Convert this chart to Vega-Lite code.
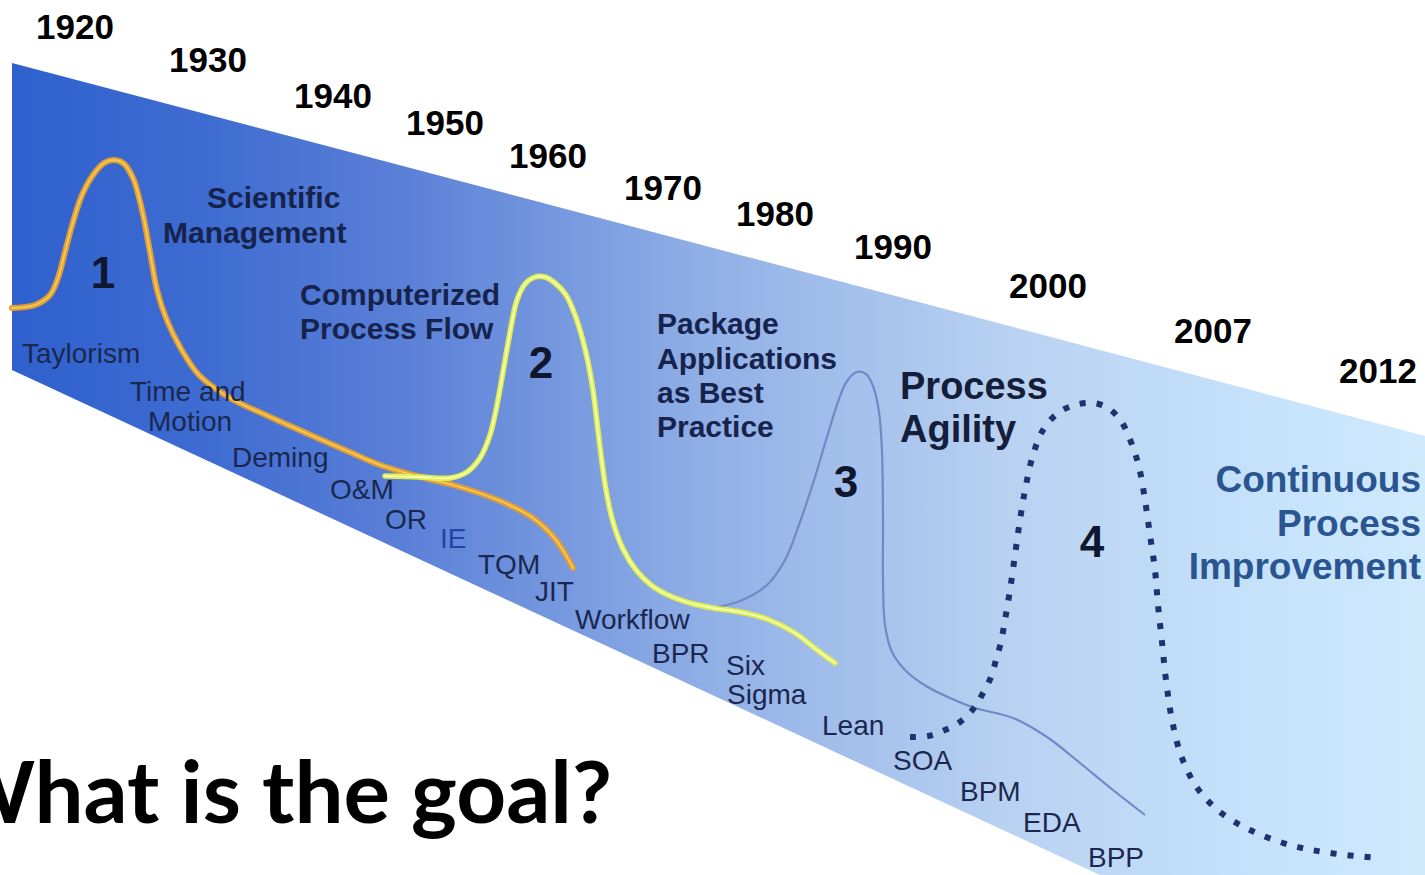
{
  "$schema": "https://vega.github.io/schema/vega-lite/v6.json",
  "width": 1425,
  "height": 875,
  "autosize": {"type": "none"},
  "padding": 0,
  "background": "#ffffff",
  "config": {"view": {"stroke": null}},
  "datasets": {
    "band": [
      {"x": 12, "top": 63, "bottom": 370},
      {"x": 1100, "top": 350, "bottom": 875},
      {"x": 1425, "top": 436, "bottom": 875}
    ],
    "wave1": [
      {"i": 1, "x": 12, "y": 308}, {"i": 2, "x": 35, "y": 305}, {"i": 3, "x": 50, "y": 295},
      {"i": 4, "x": 58, "y": 278}, {"i": 5, "x": 65, "y": 252}, {"i": 6, "x": 73, "y": 222},
      {"i": 7, "x": 82, "y": 195}, {"i": 8, "x": 93, "y": 175}, {"i": 9, "x": 104, "y": 163},
      {"i": 10, "x": 113, "y": 160}, {"i": 11, "x": 123, "y": 163}, {"i": 12, "x": 133, "y": 178},
      {"i": 13, "x": 142, "y": 210}, {"i": 14, "x": 150, "y": 252}, {"i": 15, "x": 157, "y": 290},
      {"i": 16, "x": 166, "y": 318}, {"i": 17, "x": 180, "y": 347}, {"i": 18, "x": 199, "y": 375},
      {"i": 19, "x": 230, "y": 398}, {"i": 20, "x": 268, "y": 416}, {"i": 21, "x": 306, "y": 433},
      {"i": 22, "x": 345, "y": 450}, {"i": 23, "x": 383, "y": 466}, {"i": 24, "x": 421, "y": 477},
      {"i": 25, "x": 460, "y": 487}, {"i": 26, "x": 498, "y": 500}, {"i": 27, "x": 533, "y": 518},
      {"i": 28, "x": 556, "y": 540}, {"i": 29, "x": 573, "y": 568}
    ],
    "wave2": [
      {"i": 1, "x": 385, "y": 476}, {"i": 2, "x": 420, "y": 477}, {"i": 3, "x": 450, "y": 478},
      {"i": 4, "x": 467, "y": 472}, {"i": 5, "x": 480, "y": 458}, {"i": 6, "x": 490, "y": 435},
      {"i": 7, "x": 497, "y": 405}, {"i": 8, "x": 503, "y": 372}, {"i": 9, "x": 509, "y": 338},
      {"i": 10, "x": 517, "y": 300}, {"i": 11, "x": 525, "y": 284}, {"i": 12, "x": 535, "y": 277},
      {"i": 13, "x": 545, "y": 277}, {"i": 14, "x": 555, "y": 283}, {"i": 15, "x": 566, "y": 295},
      {"i": 16, "x": 575, "y": 315}, {"i": 17, "x": 582, "y": 337}, {"i": 18, "x": 588, "y": 362},
      {"i": 19, "x": 593, "y": 390}, {"i": 20, "x": 597, "y": 422}, {"i": 21, "x": 601, "y": 455},
      {"i": 22, "x": 606, "y": 490}, {"i": 23, "x": 613, "y": 522}, {"i": 24, "x": 623, "y": 549},
      {"i": 25, "x": 636, "y": 570}, {"i": 26, "x": 651, "y": 585}, {"i": 27, "x": 668, "y": 595},
      {"i": 28, "x": 690, "y": 603}, {"i": 29, "x": 713, "y": 608}, {"i": 30, "x": 740, "y": 612},
      {"i": 31, "x": 767, "y": 619}, {"i": 32, "x": 795, "y": 633}, {"i": 33, "x": 817, "y": 650},
      {"i": 34, "x": 835, "y": 663}
    ],
    "wave3": [
      {"i": 1, "x": 713, "y": 608}, {"i": 2, "x": 740, "y": 601}, {"i": 3, "x": 767, "y": 585},
      {"i": 4, "x": 785, "y": 560}, {"i": 5, "x": 800, "y": 522}, {"i": 6, "x": 815, "y": 477},
      {"i": 7, "x": 827, "y": 437}, {"i": 8, "x": 838, "y": 402}, {"i": 9, "x": 847, "y": 381},
      {"i": 10, "x": 857, "y": 372}, {"i": 11, "x": 866, "y": 374}, {"i": 12, "x": 873, "y": 386},
      {"i": 13, "x": 879, "y": 412}, {"i": 14, "x": 882, "y": 452}, {"i": 15, "x": 883, "y": 520},
      {"i": 16, "x": 883, "y": 580}, {"i": 17, "x": 885, "y": 625}, {"i": 18, "x": 892, "y": 652},
      {"i": 19, "x": 906, "y": 671}, {"i": 20, "x": 926, "y": 686}, {"i": 21, "x": 950, "y": 698},
      {"i": 22, "x": 975, "y": 708}, {"i": 23, "x": 1013, "y": 718}, {"i": 24, "x": 1047, "y": 737},
      {"i": 25, "x": 1080, "y": 763}, {"i": 26, "x": 1113, "y": 790}, {"i": 27, "x": 1145, "y": 815}
    ],
    "wave4": [
      {"i": 1, "x": 910, "y": 737}, {"i": 2, "x": 928, "y": 736}, {"i": 3, "x": 945, "y": 730},
      {"i": 4, "x": 960, "y": 722}, {"i": 5, "x": 974, "y": 708}, {"i": 6, "x": 983, "y": 693},
      {"i": 7, "x": 991, "y": 677}, {"i": 8, "x": 996, "y": 660}, {"i": 9, "x": 1001, "y": 642},
      {"i": 10, "x": 1005, "y": 620}, {"i": 11, "x": 1010, "y": 590}, {"i": 12, "x": 1015, "y": 555},
      {"i": 13, "x": 1020, "y": 520}, {"i": 14, "x": 1026, "y": 485}, {"i": 15, "x": 1033, "y": 455},
      {"i": 16, "x": 1043, "y": 430}, {"i": 17, "x": 1058, "y": 413}, {"i": 18, "x": 1075, "y": 405},
      {"i": 19, "x": 1093, "y": 403}, {"i": 20, "x": 1108, "y": 408}, {"i": 21, "x": 1121, "y": 421},
      {"i": 22, "x": 1131, "y": 442}, {"i": 23, "x": 1139, "y": 467}, {"i": 24, "x": 1145, "y": 500},
      {"i": 25, "x": 1150, "y": 535}, {"i": 26, "x": 1155, "y": 570}, {"i": 27, "x": 1158, "y": 605},
      {"i": 28, "x": 1162, "y": 642}, {"i": 29, "x": 1166, "y": 680}, {"i": 30, "x": 1172, "y": 720},
      {"i": 31, "x": 1182, "y": 758}, {"i": 32, "x": 1198, "y": 789}, {"i": 33, "x": 1220, "y": 812},
      {"i": 34, "x": 1250, "y": 830}, {"i": 35, "x": 1290, "y": 845}, {"i": 36, "x": 1330, "y": 853},
      {"i": 37, "x": 1378, "y": 858}
    ],
    "years": [
      {"t": "1920", "x": 75, "y": 39}, {"t": "1930", "x": 208, "y": 72},
      {"t": "1940", "x": 333, "y": 108}, {"t": "1950", "x": 445, "y": 135},
      {"t": "1960", "x": 548, "y": 168}, {"t": "1970", "x": 663, "y": 200},
      {"t": "1980", "x": 775, "y": 226}, {"t": "1990", "x": 893, "y": 259},
      {"t": "2000", "x": 1048, "y": 298}, {"t": "2007", "x": 1213, "y": 343},
      {"t": "2012", "x": 1378, "y": 383}
    ],
    "eras": [
      {"t": "Scientific", "x": 207, "y": 208}, {"t": "Management", "x": 163, "y": 243},
      {"t": "Computerized", "x": 300, "y": 305}, {"t": "Process Flow", "x": 300, "y": 339},
      {"t": "Package", "x": 657, "y": 334}, {"t": "Applications", "x": 657, "y": 369},
      {"t": "as Best", "x": 657, "y": 403}, {"t": "Practice", "x": 657, "y": 437}
    ],
    "agility": [
      {"t": "Process", "x": 900, "y": 399}, {"t": "Agility", "x": 900, "y": 442}
    ],
    "continuous": [
      {"t": "Continuous", "x": 1421, "y": 492}, {"t": "Process", "x": 1421, "y": 536},
      {"t": "Improvement", "x": 1421, "y": 579}
    ],
    "numbers": [
      {"t": "1", "x": 103, "y": 288}, {"t": "2", "x": 541, "y": 378},
      {"t": "3", "x": 846, "y": 497}, {"t": "4", "x": 1092, "y": 557}
    ],
    "methods": [
      {"t": "Taylorism", "x": 22, "y": 363, "c": "n"}, {"t": "Time and", "x": 130, "y": 401, "c": "n"},
      {"t": "Motion", "x": 148, "y": 431, "c": "n"}, {"t": "Deming", "x": 232, "y": 467, "c": "n"},
      {"t": "O&M", "x": 330, "y": 499, "c": "n"}, {"t": "OR", "x": 385, "y": 529, "c": "n"},
      {"t": "IE", "x": 440, "y": 548, "c": "b"}, {"t": "TQM", "x": 478, "y": 574, "c": "n"},
      {"t": "JIT", "x": 535, "y": 601, "c": "n"}, {"t": "Workflow", "x": 575, "y": 629, "c": "n"},
      {"t": "BPR", "x": 652, "y": 663, "c": "n"}, {"t": "Six", "x": 726, "y": 675, "c": "n"},
      {"t": "Sigma", "x": 727, "y": 704, "c": "n"}, {"t": "Lean", "x": 822, "y": 735, "c": "n"},
      {"t": "SOA", "x": 893, "y": 770, "c": "n"}, {"t": "BPM", "x": 960, "y": 801, "c": "n"},
      {"t": "EDA", "x": 1023, "y": 832, "c": "n"}, {"t": "BPP", "x": 1088, "y": 867, "c": "n"}
    ],
    "title": [
      {"t": "What is the goal?", "x": 612, "y": 823}
    ]
  },
  "layer": [
    {
      "data": {"name": "band"},
      "mark": {
        "type": "area",
        "fill": {
          "gradient": "linear", "x1": 0, "y1": 0, "x2": 1, "y2": 0,
          "stops": [
            {"offset": 0, "color": "#2f60cd"},
            {"offset": 0.13, "color": "#3d6bd1"},
            {"offset": 0.275, "color": "#5a7fd7"},
            {"offset": 0.49, "color": "#90afe6"},
            {"offset": 0.7, "color": "#b8d1f1"},
            {"offset": 0.91, "color": "#c8e4fc"},
            {"offset": 1, "color": "#cfe9fd"}
          ]
        }
      },
      "encoding": {
        "x": {"field": "x", "type": "quantitative", "scale": {"domain": [0, 1425], "nice": false, "zero": false}, "axis": null},
        "y": {"field": "top", "type": "quantitative", "scale": {"domain": [0, 875], "nice": false, "reverse": true}, "axis": null},
        "y2": {"field": "bottom"}
      }
    },
    {
      "data": {"name": "wave1"},
      "mark": {"type": "line", "interpolate": "catmull-rom", "color": "#e39c38", "strokeWidth": 6, "strokeCap": "round"},
      "encoding": {
        "x": {"field": "x", "type": "quantitative", "scale": {"domain": [0, 1425], "nice": false, "zero": false}, "axis": null},
        "y": {"field": "y", "type": "quantitative", "scale": {"domain": [0, 875], "nice": false, "reverse": true}, "axis": null},
        "order": {"field": "i", "type": "quantitative"}
      }
    },
    {
      "data": {"name": "wave1"},
      "mark": {"type": "line", "interpolate": "catmull-rom", "color": "#f2cf52", "strokeWidth": 1.8, "strokeCap": "round"},
      "encoding": {
        "x": {"field": "x", "type": "quantitative", "scale": {"domain": [0, 1425], "nice": false, "zero": false}, "axis": null},
        "y": {"field": "y", "type": "quantitative", "scale": {"domain": [0, 875], "nice": false, "reverse": true}, "axis": null},
        "order": {"field": "i", "type": "quantitative"}
      }
    },
    {
      "data": {"name": "wave3"},
      "mark": {"type": "line", "interpolate": "catmull-rom", "color": "#7388c6", "strokeWidth": 2.2},
      "encoding": {
        "x": {"field": "x", "type": "quantitative", "scale": {"domain": [0, 1425], "nice": false, "zero": false}, "axis": null},
        "y": {"field": "y", "type": "quantitative", "scale": {"domain": [0, 875], "nice": false, "reverse": true}, "axis": null},
        "order": {"field": "i", "type": "quantitative"}
      }
    },
    {
      "data": {"name": "wave2"},
      "mark": {"type": "line", "interpolate": "catmull-rom", "color": "#dcef4c", "strokeWidth": 5.5, "strokeCap": "round"},
      "encoding": {
        "x": {"field": "x", "type": "quantitative", "scale": {"domain": [0, 1425], "nice": false, "zero": false}, "axis": null},
        "y": {"field": "y", "type": "quantitative", "scale": {"domain": [0, 875], "nice": false, "reverse": true}, "axis": null},
        "order": {"field": "i", "type": "quantitative"}
      }
    },
    {
      "data": {"name": "wave2"},
      "mark": {"type": "line", "interpolate": "catmull-rom", "color": "#f7fcb8", "strokeWidth": 1.8, "strokeCap": "round"},
      "encoding": {
        "x": {"field": "x", "type": "quantitative", "scale": {"domain": [0, 1425], "nice": false, "zero": false}, "axis": null},
        "y": {"field": "y", "type": "quantitative", "scale": {"domain": [0, 875], "nice": false, "reverse": true}, "axis": null},
        "order": {"field": "i", "type": "quantitative"}
      }
    },
    {
      "data": {"name": "wave4"},
      "mark": {"type": "line", "interpolate": "catmull-rom", "color": "#1e3272", "strokeWidth": 6, "strokeDash": [6, 11]},
      "encoding": {
        "x": {"field": "x", "type": "quantitative", "scale": {"domain": [0, 1425], "nice": false, "zero": false}, "axis": null},
        "y": {"field": "y", "type": "quantitative", "scale": {"domain": [0, 875], "nice": false, "reverse": true}, "axis": null},
        "order": {"field": "i", "type": "quantitative"}
      }
    },
    {
      "data": {"name": "years"},
      "mark": {"type": "text", "font": "Liberation Sans", "fontWeight": "bold", "fontSize": 35, "color": "#000000", "align": "center", "baseline": "alphabetic"},
      "encoding": {
        "x": {"field": "x", "type": "quantitative", "scale": {"domain": [0, 1425], "nice": false, "zero": false}, "axis": null},
        "y": {"field": "y", "type": "quantitative", "scale": {"domain": [0, 875], "nice": false, "reverse": true}, "axis": null},
        "text": {"field": "t"}
      }
    },
    {
      "data": {"name": "eras"},
      "mark": {"type": "text", "font": "Liberation Sans", "fontWeight": "bold", "fontSize": 30, "color": "#16234d", "align": "left", "baseline": "alphabetic"},
      "encoding": {
        "x": {"field": "x", "type": "quantitative", "scale": {"domain": [0, 1425], "nice": false, "zero": false}, "axis": null},
        "y": {"field": "y", "type": "quantitative", "scale": {"domain": [0, 875], "nice": false, "reverse": true}, "axis": null},
        "text": {"field": "t"}
      }
    },
    {
      "data": {"name": "agility"},
      "mark": {"type": "text", "font": "Liberation Sans", "fontWeight": "bold", "fontSize": 38, "color": "#141d3a", "align": "left", "baseline": "alphabetic"},
      "encoding": {
        "x": {"field": "x", "type": "quantitative", "scale": {"domain": [0, 1425], "nice": false, "zero": false}, "axis": null},
        "y": {"field": "y", "type": "quantitative", "scale": {"domain": [0, 875], "nice": false, "reverse": true}, "axis": null},
        "text": {"field": "t"}
      }
    },
    {
      "data": {"name": "continuous"},
      "mark": {"type": "text", "font": "Liberation Sans", "fontWeight": "bold", "fontSize": 37, "color": "#2a5590", "align": "right", "baseline": "alphabetic"},
      "encoding": {
        "x": {"field": "x", "type": "quantitative", "scale": {"domain": [0, 1425], "nice": false, "zero": false}, "axis": null},
        "y": {"field": "y", "type": "quantitative", "scale": {"domain": [0, 875], "nice": false, "reverse": true}, "axis": null},
        "text": {"field": "t"}
      }
    },
    {
      "data": {"name": "numbers"},
      "mark": {"type": "text", "font": "Liberation Sans", "fontWeight": "bold", "fontSize": 44, "color": "#0f172f", "align": "center", "baseline": "alphabetic"},
      "encoding": {
        "x": {"field": "x", "type": "quantitative", "scale": {"domain": [0, 1425], "nice": false, "zero": false}, "axis": null},
        "y": {"field": "y", "type": "quantitative", "scale": {"domain": [0, 875], "nice": false, "reverse": true}, "axis": null},
        "text": {"field": "t"}
      }
    },
    {
      "data": {"name": "methods"},
      "mark": {"type": "text", "font": "Liberation Sans", "fontSize": 28, "align": "left", "baseline": "alphabetic"},
      "encoding": {
        "x": {"field": "x", "type": "quantitative", "scale": {"domain": [0, 1425], "nice": false, "zero": false}, "axis": null},
        "y": {"field": "y", "type": "quantitative", "scale": {"domain": [0, 875], "nice": false, "reverse": true}, "axis": null},
        "text": {"field": "t"},
        "color": {"field": "c", "type": "nominal", "scale": {"domain": ["n", "b"], "range": ["#1a2850", "#2443a6"]}, "legend": null}
      }
    },
    {
      "data": {"name": "title"},
      "mark": {"type": "text", "font": "Lato", "fontWeight": "bold", "fontSize": 87, "color": "#000000", "align": "right", "baseline": "alphabetic"},
      "encoding": {
        "x": {"field": "x", "type": "quantitative", "scale": {"domain": [0, 1425], "nice": false, "zero": false}, "axis": null},
        "y": {"field": "y", "type": "quantitative", "scale": {"domain": [0, 875], "nice": false, "reverse": true}, "axis": null},
        "text": {"field": "t"}
      }
    }
  ]
}
